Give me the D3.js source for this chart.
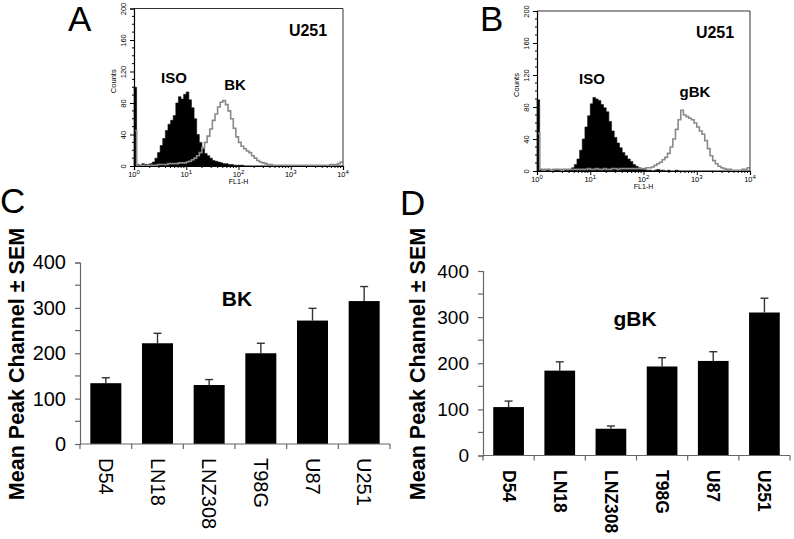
<!DOCTYPE html>
<html><head><meta charset="utf-8">
<script src="https://cdn.jsdelivr.net/npm/d3@7"></script>
<style>body{margin:0;background:#fff}svg{display:block;font-family:"Liberation Sans",Arial,Helvetica,sans-serif}</style>
</head><body>
<svg id="c" width="794" height="539"></svg>
<script>
// ---------- DATA ----------
const binsPerDecade = 20; // histogram bins per log decade, 10^0 .. 10^4
const isoA = [100,2,1,3,2,2,3,5,10,17,26,35,45,53,58,64,80,88,85,91,94,84,74,60,40,30,22,16,13,10,7,6,5,4,3,3,2,2,1,1,1,1,0,0,0,0,0,0,0,0,0,0,0,0,0,0,0,0,0,0,0,0,0,0,0,0,0,0,0,0,0,0,0,0,0,0,0,0,0,0];
const bkA  = [45,1,0,1,0,1,1,1,1,2,2,2,2,3,3,3,3,4,4,4,5,6,8,10,13,17,23,30,38,47,58,66,75,81,83,78,70,60,48,37,30,25,22,19,17,13,10,7,5,4,3,2,2,1,1,1,1,1,1,1,1,1,1,1,1,1,1,1,1,1,1,1,1,1,1,2,2,2,3,5];
const isoB = [89,2,2,1,2,1,1,2,1,2,2,1,2,4,8,15,26,40,55,69,84,92,90,88,83,79,74,62,50,42,35,29,23,19,15,12,8,6,4,3,2,1,1,0,1,2,1,1,0,1,0,0,1,0,0,0,0,0,0,0,0,0,0,0,0,0,0,0,0,0,0,0,0,0,0,0,0,0,0,0];
const gbkB = [47,2,1,2,2,1,2,2,2,1,2,2,2,2,2,2,2,2,2,3,2,2,3,2,2,3,2,2,3,3,2,3,3,3,3,3,3,3,3,3,3,4,4,5,7,9,11,14,17,22,30,40,52,64,76,70,68,66,64,60,55,50,46,38,28,19,13,9,6,4,3,2,2,1,1,1,1,2,2,4];
const countTicks = [0,40,80,120,160,200];
const decadeTicks = [0,1,2,3,4];

const cellLines = ["D54","LN18","LNZ308","T98G","U87","U251"];
const bkMean  = [134,222,130,200,272,315];
const bkSem   = [12,22,12,22,27,32];
const gbkMean = [105,184,58,193,205,310];
const gbkSem  = [13,19,6,19,20,31];
const barTicks = [0,100,200,300,400];
const barMinor = [50,150,250,350];

// ---------- DRAW ----------
const svg = d3.select("#c");

function panelLetter(t, x, y){
  svg.append("text").attr("x",x).attr("y",y).attr("font-size",35).attr("fill","#000").text(t);
}

function histogram(cfg){
  const g = svg.append("g");
  const x = d3.scaleLog().domain([1,1e4]).range([cfg.left,cfg.right]);
  const y = d3.scaleLinear().domain([0,200]).range([cfg.bottom,cfg.top]);
  const pts = arr => {
    const p = arr.map((c,i)=>({v:Math.pow(10,i/binsPerDecade), c}));
    p.push({v:1e4, c:arr[arr.length-1]});
    return p;
  };
  const area = d3.area().curve(d3.curveStepAfter).x(d=>x(d.v)).y0(y(0)).y1(d=>y(d.c));
  const line = d3.line().curve(d3.curveStepAfter).x(d=>x(d.v)).y(d=>y(d.c));
  // filled isotype
  g.append("path").datum(pts(cfg.iso)).attr("d",area).attr("fill","#000").attr("stroke","#111").attr("stroke-width",0.6);
  // gray outline
  g.append("path").datum(pts(cfg.ab)).attr("d",line).attr("fill","none").attr("stroke","#8a8a8a").attr("stroke-width",1.6);
  // frame top/right
  g.append("path").attr("d",`M${cfg.left},${cfg.top}H${cfg.right}V${cfg.bottom}`).attr("fill","none").attr("stroke","#333").attr("stroke-width",1);
  // y axis
  const ya = g.append("g").attr("transform",`translate(${cfg.left},0)`)
    .call(d3.axisLeft(y).tickValues(countTicks).tickSize(4).tickFormat(d3.format("d")));
  ya.select(".domain").attr("stroke","#000").attr("stroke-width",1.2);
  ya.selectAll(".tick line").attr("stroke","#000");
  ya.selectAll(".tick text").attr("font-size",7.5).attr("font-family","Liberation Sans, Arial, sans-serif")
    .attr("text-anchor","middle").attr("dy",0).attr("x",0)
    .attr("transform","translate(-11,0) rotate(-90)").attr("dominant-baseline","central");
  const minorY = d3.range(0,201,10).filter(v=>v%40!==0);
  g.append("g").selectAll("line").data(minorY).join("line")
    .attr("x1",cfg.left-2).attr("x2",cfg.left).attr("y1",d=>y(d)).attr("y2",d=>y(d)).attr("stroke","#000");
  g.append("text").attr("transform",`translate(${cfg.left-21},${(cfg.top+cfg.bottom)/2-6}) rotate(-90)`)
    .attr("text-anchor","middle").attr("font-size",7.5).attr("dominant-baseline","central").text("Counts");
  // x axis
  const xa = g.append("g").attr("transform",`translate(0,${cfg.bottom})`)
    .call(d3.axisBottom(x).tickValues(decadeTicks.map(d=>Math.pow(10,d))).tickSize(4).tickFormat(""));
  xa.select(".domain").attr("stroke","#000").attr("stroke-width",1.2);
  xa.selectAll(".tick line").attr("stroke","#000");
  const minorX = [];
  decadeTicks.slice(0,-1).forEach(d=>{ for(let k=2;k<10;k++) minorX.push(k*Math.pow(10,d)); });
  g.append("g").selectAll("line").data(minorX).join("line")
    .attr("x1",d=>x(d)).attr("x2",d=>x(d)).attr("y1",cfg.bottom).attr("y2",cfg.bottom+2).attr("stroke","#000");
  const lab = g.append("g").selectAll("text").data(decadeTicks).join("text")
    .attr("x",d=>x(Math.pow(10,d))).attr("y",cfg.bottom+11).attr("text-anchor","middle").attr("font-size",7.5);
  lab.append("tspan").text("10");
  lab.append("tspan").attr("dy",-3.5).attr("font-size",6).text(d=>d);
  g.append("text").attr("x",x(100)).attr("y",cfg.bottom+18).attr("text-anchor","middle").attr("font-size",7).text("FL1-H");
  // annotations
  cfg.labels.forEach(l=>{
    g.append("text").attr("x",l.x).attr("y",l.y).attr("text-anchor","middle")
      .attr("font-size",l.s).attr("font-weight","bold").text(l.t);
  });
}

function barChart(cfg){
  const g = svg.append("g");
  const x = d3.scaleBand().domain(cellLines).range([cfg.left,cfg.right]).paddingInner(0.4).paddingOuter(0.2);
  const y = d3.scaleLinear().domain([0,400]).range([cfg.bottom,cfg.top]);
  const data = cellLines.map((c,i)=>({c, m:cfg.mean[i], s:cfg.sem[i]}));
  // error bars (behind bars)
  const eb = g.append("g").attr("stroke","#333").attr("stroke-width",1.4);
  eb.selectAll(".v").data(data).join("line")
    .attr("x1",d=>x(d.c)+x.bandwidth()/2).attr("x2",d=>x(d.c)+x.bandwidth()/2)
    .attr("y1",d=>y(d.m)).attr("y2",d=>y(d.m+d.s));
  eb.selectAll(".h").data(data).join("line")
    .attr("x1",d=>x(d.c)+x.bandwidth()/2-4).attr("x2",d=>x(d.c)+x.bandwidth()/2+4)
    .attr("y1",d=>y(d.m+d.s)).attr("y2",d=>y(d.m+d.s));
  g.append("g").selectAll("rect").data(data).join("rect")
    .attr("x",d=>x(d.c)).attr("width",x.bandwidth())
    .attr("y",d=>y(d.m)).attr("height",d=>y(0)-y(d.m)).attr("fill","#000");
  // y axis
  const ya = g.append("g").attr("transform",`translate(${cfg.left},0)`)
    .call(d3.axisLeft(y).tickValues(barTicks).tickSize(5).tickPadding(9));
  ya.select(".domain").attr("stroke","#666").attr("stroke-width",1.2);
  ya.selectAll(".tick line").attr("stroke","#666").attr("stroke-width",1.2);
  ya.selectAll(".tick text").attr("font-size",cfg.tickFont).attr("font-family","Liberation Sans, Arial, sans-serif").attr("fill","#000");
  g.append("g").selectAll("line").data(barMinor).join("line")
    .attr("x1",cfg.left-5).attr("x2",cfg.left).attr("y1",d=>y(d)).attr("y2",d=>y(d)).attr("stroke","#666").attr("stroke-width",1.2);
  // x axis
  g.append("line").attr("x1",cfg.left).attr("x2",cfg.right).attr("y1",y(0)).attr("y2",y(0)).attr("stroke","#666").attr("stroke-width",1.2);
  const bounds = cellLines.map(c=>x(c)-x.step()*x.paddingInner()/2).concat([cfg.right]);
  bounds[0]=cfg.left;
  g.append("g").selectAll("line").data(bounds).join("line")
    .attr("x1",d=>d).attr("x2",d=>d).attr("y1",y(0)).attr("y2",y(0)+5).attr("stroke","#666").attr("stroke-width",1.2);
  g.append("g").selectAll("text").data(cellLines).join("text")
    .attr("transform",d=>`translate(${x(d)+x.bandwidth()/2},${cfg.catY}) rotate(90)`)
    .attr("dominant-baseline","central").attr("font-size",cfg.catFont).attr("font-weight",cfg.catWeight).text(d=>d);
  // y title
  g.append("text").attr("transform",`translate(${cfg.titleX},${cfg.titleY}) rotate(-90)`)
    .attr("text-anchor","middle").attr("dominant-baseline","central")
    .attr("font-size",21.5).attr("font-weight","bold").text("Mean Peak Channel ± SEM");
  g.append("text").attr("x",cfg.lab.x).attr("y",cfg.lab.y).attr("text-anchor","middle")
    .attr("font-size",21).attr("font-weight","bold").text(cfg.lab.t);
}

panelLetter("A",68,31);
panelLetter("B",480,31);
panelLetter("C",0,213);
panelLetter("D",400,215);

histogram({left:134,right:343,top:8.5,bottom:166,iso:isoA,ab:bkA,
  labels:[{t:"U251",x:308,y:36,s:16},{t:"ISO",x:174,y:83,s:15},{t:"BK",x:235,y:90,s:15}]});
histogram({left:537,right:750,top:11,bottom:171,iso:isoB,ab:gbkB,
  labels:[{t:"U251",x:715,y:38,s:16},{t:"ISO",x:592,y:84,s:15},{t:"gBK",x:695,y:97,s:15}]});

barChart({left:80,right:390,top:262.5,bottom:444,mean:bkMean,sem:bkSem,tickFont:20,
  catY:458,catFont:20,catWeight:"normal",titleX:17,titleY:364,lab:{t:"BK",x:237,y:306}});
barChart({left:483,right:790,top:271,bottom:455.5,mean:gbkMean,sem:gbkSem,tickFont:19,
  catY:470,catFont:17.5,catWeight:"bold",titleX:418,titleY:364,lab:{t:"gBK",x:635,y:326}});
</script>
</body></html>
